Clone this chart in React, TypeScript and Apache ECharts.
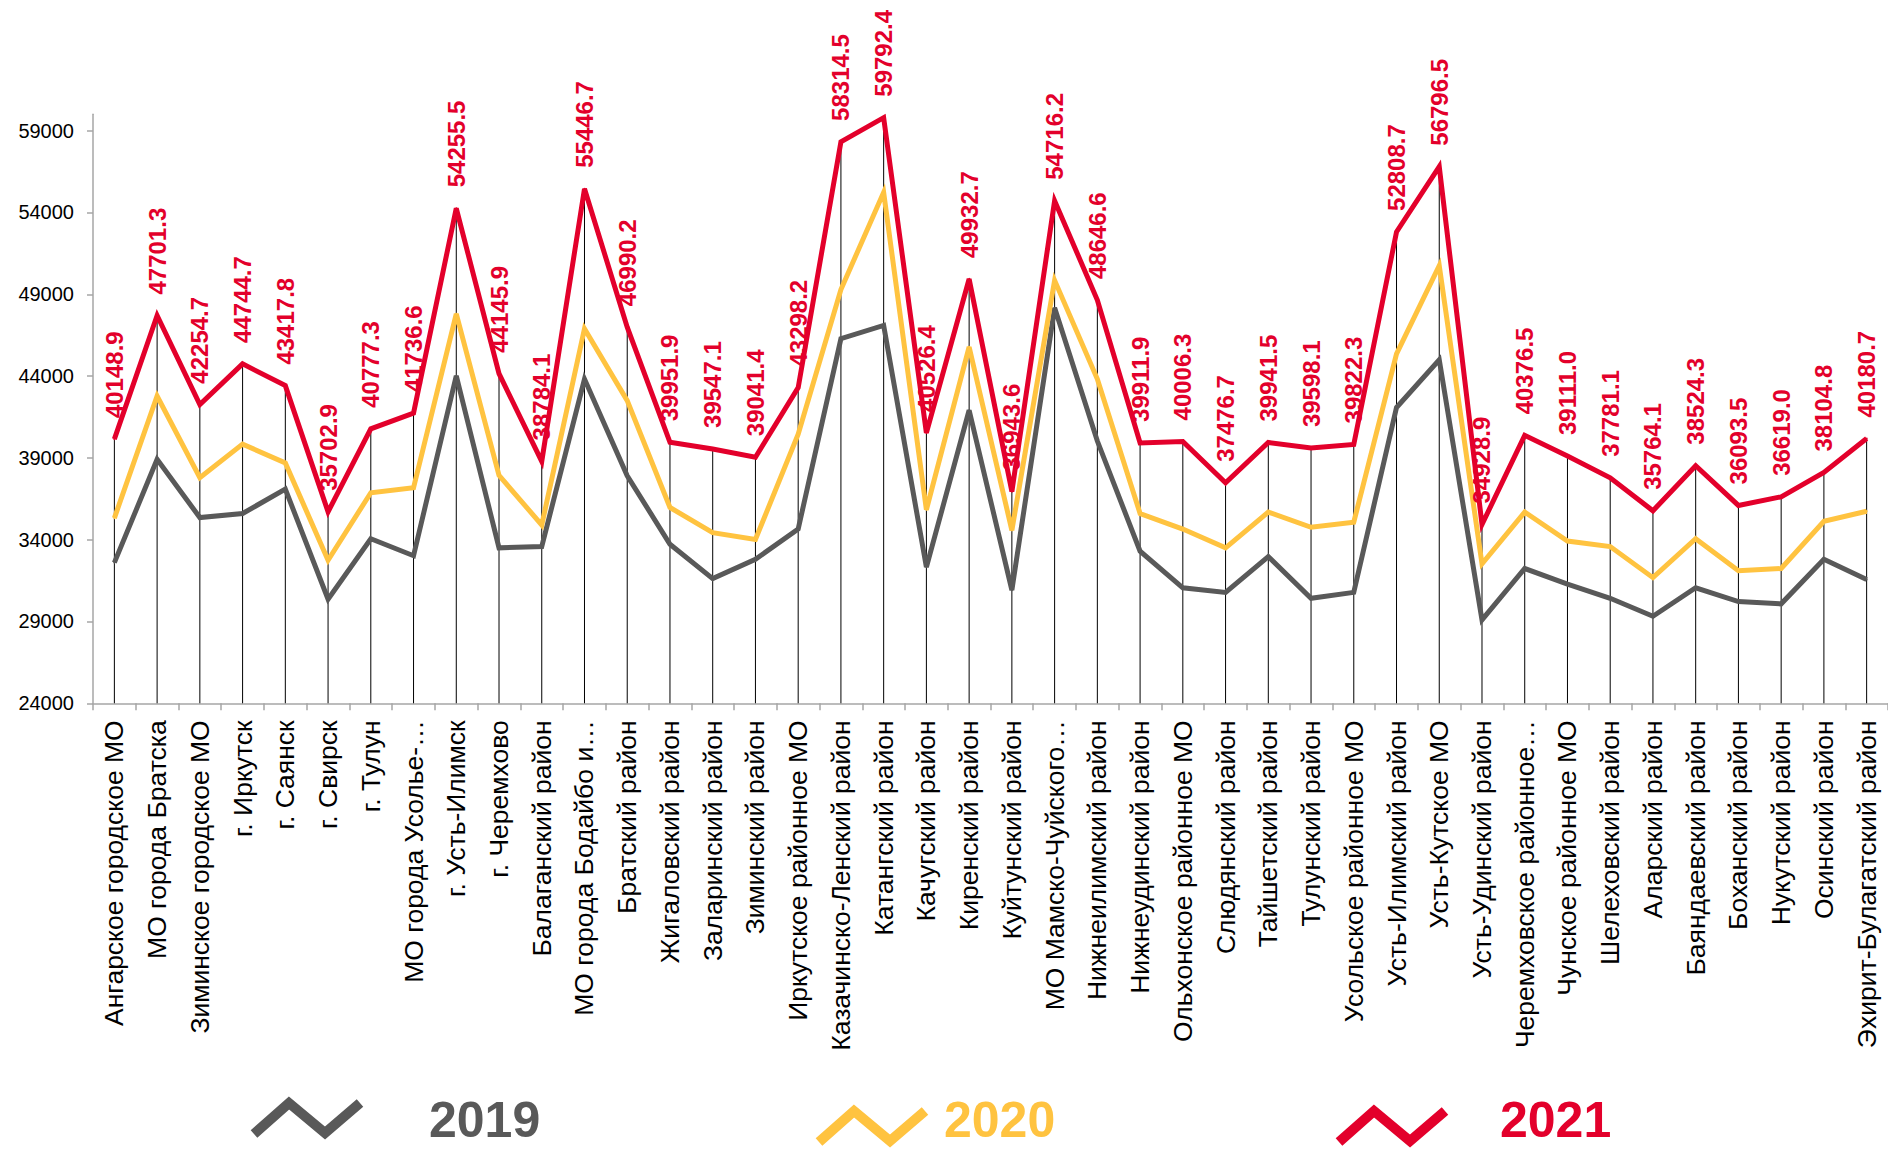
import React, { useEffect, useRef } from "react";
import * as echarts from "echarts";

const categories = [
  "Ангарское городское МО",
  "МО города Братска",
  "Зиминское городское МО",
  "г. Иркутск",
  "г. Саянск",
  "г. Свирск",
  "г. Тулун",
  "МО города Усолье-…",
  "г. Усть-Илимск",
  "г. Черемхово",
  "Балаганский район",
  "МО города Бодайбо и…",
  "Братский район",
  "Жигаловский район",
  "Заларинский район",
  "Зиминский район",
  "Иркутское районное МО",
  "Казачинско-Ленский район",
  "Катангский район",
  "Качугский район",
  "Киренский район",
  "Куйтунский район",
  "МО Мамско-Чуйского…",
  "Нижнеилимский район",
  "Нижнеудинский район",
  "Ольхонское районное МО",
  "Слюдянский район",
  "Тайшетский район",
  "Тулунский район",
  "Усольское районное МО",
  "Усть-Илимский район",
  "Усть-Кутское МО",
  "Усть-Удинский район",
  "Черемховское районное…",
  "Чунское районное МО",
  "Шелеховский район",
  "Аларский район",
  "Баяндаевский район",
  "Боханский район",
  "Нукутский район",
  "Осинский район",
  "Эхирит-Булагатский район",
];

const values2019 = [
  32600, 38910, 35350, 35600, 37090, 30360, 34060, 33020, 44020, 33500,
  33580, 43820, 37910, 33720, 31620, 32800, 34650, 46290, 47100, 32320,
  41910, 30920, 48170, 40030, 33300, 31060, 30780, 32970, 30420, 30780,
  42080, 45000, 29100, 32240, 31290, 30420, 29320, 31060, 30220, 30080,
  32800, 31570,
];

const values2020 = [
  35320, 42780, 37790, 39840, 38690, 32740, 36870, 37170, 47800, 37930,
  34900, 46900, 42500, 35970, 34430, 34010, 40450, 49290, 55230, 35830,
  45780, 34570, 49850, 43820, 35600, 34650, 33500, 35690, 34760, 35070,
  45360, 50750, 32520, 35690, 33920, 33580, 31680, 34060, 32100, 32240,
  35130, 35740,
];

const values2021 = [
  40148.9, 47701.3, 42254.7, 44744.7, 43417.8, 35702.9, 40777.3, 41736.6,
  54255.5, 44145.9, 38784.1, 55446.7, 46990.2, 39951.9, 39547.1, 39041.4,
  43298.2, 58314.5, 59792.4, 40526.4, 49932.7, 36943.6, 54716.2, 48646.6,
  39911.9, 40006.3, 37476.7, 39941.5, 39598.1, 39822.3, 52808.7, 56796.5,
  34928.9, 40376.5, 39111.0, 37781.1, 35764.1, 38524.3, 36093.5, 36619.0,
  38104.8, 40180.7,
];

const yTicks = [24000, 29000, 34000, 39000, 44000, 49000, 54000, 59000];
const seriesNames = ["2019", "2020", "2021"];
const colors = ["#595959", "#FFC340", "#E3002B"];

const FONT = '"Liberation Sans", Arial, sans-serif';
const AXIS_GRAY = "#A6A6A6";

function legendIcon(x0: number, yTop: number, color: string) {
  const pts = [
    [x0, yTop + 31],
    [x0 + 35, yTop],
    [x0 + 71, yTop + 30],
    [x0 + 106, yTop],
  ];
  return {
    type: "polyline",
    shape: { points: pts },
    style: { stroke: color, lineWidth: 10, fill: null, lineJoin: "miter", lineCap: "butt" },
    silent: true,
  };
}

function legendText(x: number, y: number, text: string, color: string) {
  return {
    type: "text",
    x,
    y,
    style: {
      text,
      fill: color,
      fontSize: 50,
      lineHeight: 42,
      fontWeight: "bold",
      fontFamily: FONT,
      verticalAlign: "middle",
      align: "left",
    },
    silent: true,
  };
}

export default function App() {
  const ref = useRef<HTMLDivElement>(null);

  useEffect(() => {
    const chart = echarts.init(ref.current!, null, { renderer: "svg" });
    const lineCommon = {
      type: "line",
      symbol: "circle",
      symbolSize: 2,
      emphasis: { disabled: true },
      silent: true,
    };
    chart.setOption({
      animation: false,
      backgroundColor: "#ffffff",
      textStyle: { fontFamily: FONT },
      grid: { left: 93, top: 114.3, width: 1799, height: 589 },
      xAxis: {
        type: "category",
        data: categories,
        boundaryGap: true,
        axisLine: { lineStyle: { color: AXIS_GRAY, width: 1.5 } },
        axisTick: { show: true, interval: 0, length: 7, lineStyle: { color: AXIS_GRAY, width: 1.5 } },
        axisLabel: {
          interval: 0,
          rotate: 90,
          fontSize: 26.5,
          color: "#000",
          fontFamily: FONT,
          margin: 17,
        },
        splitLine: { show: false },
      },
      yAxis: {
        type: "value",
        min: 24000,
        max: 60000,
        interval: 5000,
        axisLine: { show: true, lineStyle: { color: AXIS_GRAY, width: 1.5 } },
        axisTick: {
          show: true,
          length: 6,
          customValues: yTicks,
          lineStyle: { color: AXIS_GRAY, width: 1.5 },
        },
        axisLabel: {
          customValues: yTicks,
          fontSize: 20,
          color: "#000",
          fontFamily: FONT,
          margin: 19,
          formatter: (v: number) => String(v),
        },
        splitLine: { show: false },
      },
      series: [
        {
          name: "drop",
          type: "bar",
          data: values2021,
          barWidth: 1,
          itemStyle: { color: "#000" },
          z: 1,
          silent: true,
          emphasis: { disabled: true },
        },
        {
          ...lineCommon,
          name: seriesNames[0],
          data: values2019,
          itemStyle: { color: colors[0] },
          lineStyle: { width: 5, join: "miter", color: colors[0] },
          z: 2,
        },
        {
          ...lineCommon,
          name: seriesNames[1],
          data: values2020,
          itemStyle: { color: colors[1] },
          lineStyle: { width: 5, join: "miter", color: colors[1] },
          z: 3,
        },
        {
          ...lineCommon,
          name: seriesNames[2],
          data: values2021,
          itemStyle: { color: colors[2] },
          lineStyle: { width: 5, join: "miter", color: colors[2] },
          z: 4,
          label: {
            show: true,
            position: "top",
            distance: 20,
            rotate: 90,
            align: "left",
            verticalAlign: "middle",
            fontSize: 24,
            fontWeight: "bold",
            fontFamily: FONT,
            color: colors[2],
            formatter: (p: any) => Number(p.value).toFixed(1),
          },
        },
      ],
      graphic: [
        legendIcon(254, 1103, colors[0]),
        legendText(429, 1120, seriesNames[0], colors[0]),
        legendIcon(819, 1111, colors[1]),
        legendText(944, 1120, seriesNames[1], colors[1]),
        legendIcon(1339, 1111, colors[2]),
        legendText(1500, 1120, seriesNames[2], colors[2]),
      ],
    });
    return () => chart.dispose();
  }, []);

  return (
    <div
      ref={ref}
      style={{ position: "fixed", left: 0, top: 0, width: 1888, height: 1149, background: "#fff" }}
    />
  );
}
